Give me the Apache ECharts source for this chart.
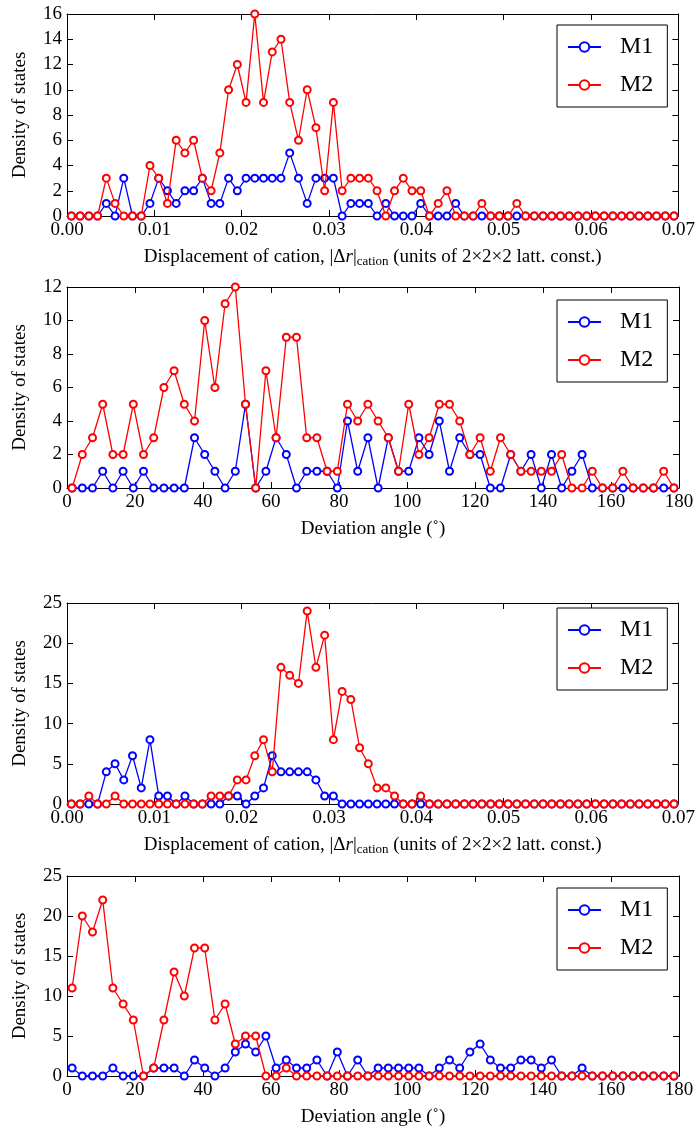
<!DOCTYPE html>
<html>
<head>
<meta charset="utf-8">
<script src="https://cdn.jsdelivr.net/npm/echarts@6/dist/echarts.min.js"></script>
<style>
  html, body { margin: 0; padding: 0; background: #fff; }
  #chart { width: 698px; height: 1134px; }
</style>
</head>
<body>
<div id="chart"></div>
<script>
// bin widths of the two histograms
const dispStep = 0.001   // displacement bins, 70 of them
const angleStep = 3      // angle bins, 60 of them

// panel 1: displacement, first set
const disp1M1 = [0, 0, 0, 0, 1, 0, 3, 0, 0, 1, 3, 2, 1, 2, 2, 3, 1, 1, 3, 2, 3, 3, 3, 3, 3, 5, 3, 1, 3, 3,
  3, 0, 1, 1, 1, 0, 1, 0, 0, 0, 1, 0, 0, 0, 1, 0, 0, 0, 0, 0, 0, 0, 0, 0, 0, 0, 0, 0, 0, 0,
  0, 0, 0, 0, 0, 0, 0, 0, 0, 0]
const disp1M2 = [0, 0, 0, 0, 3, 1, 0, 0, 0, 4, 3, 1, 6, 5, 6, 3, 2, 5, 10, 12, 9, 16, 9, 13, 14, 9, 6, 10, 7, 2,
  9, 2, 3, 3, 3, 2, 0, 2, 3, 2, 2, 0, 1, 2, 0, 0, 0, 1, 0, 0, 0, 1, 0, 0, 0, 0, 0, 0, 0, 0,
  0, 0, 0, 0, 0, 0, 0, 0, 0, 0]

// panel 2: angle, first set
const angle1M1 = [0, 0, 0, 1, 0, 1, 0, 1, 0, 0, 0, 0, 3, 2, 1, 0, 1, 5, 0, 1,
  3, 2, 0, 1, 1, 1, 0, 4, 1, 3, 0, 3, 1, 1, 3, 2, 4, 1, 3, 2,
  2, 0, 0, 2, 1, 2, 0, 2, 0, 1, 2, 0, 0, 0, 0, 0, 0, 0, 0, 0]
const angle1M2 = [0, 2, 3, 5, 2, 2, 5, 2, 3, 6, 7, 5, 4, 10, 6, 11, 12, 5, 0, 7,
  3, 9, 9, 3, 3, 1, 1, 5, 4, 5, 4, 3, 1, 5, 2, 3, 5, 5, 4, 2,
  3, 1, 3, 2, 1, 1, 1, 1, 2, 0, 0, 1, 0, 0, 1, 0, 0, 0, 1, 0]

// panel 3: displacement, second set
const disp2M1 = [0, 0, 0, 0, 4, 5, 3, 6, 2, 8, 1, 1, 0, 1, 0, 0, 0, 0, 1, 1, 0, 1, 2, 6, 4, 4, 4, 4, 3, 1,
  1, 0, 0, 0, 0, 0, 0, 0, 0, 0, 0, 0, 0, 0, 0, 0, 0, 0, 0, 0, 0, 0, 0, 0, 0, 0, 0, 0, 0, 0,
  0, 0, 0, 0, 0, 0, 0, 0, 0, 0]
const disp2M2 = [0, 0, 1, 0, 0, 1, 0, 0, 0, 0, 0, 0, 0, 0, 0, 0, 1, 1, 1, 3, 3, 6, 8, 4, 17, 16, 15, 24, 17, 21,
  8, 14, 13, 7, 5, 2, 2, 1, 0, 0, 1, 0, 0, 0, 0, 0, 0, 0, 0, 0, 0, 0, 0, 0, 0, 0, 0, 0, 0, 0,
  0, 0, 0, 0, 0, 0, 0, 0, 0, 0]

// panel 4: angle, second set
const angle2M1 = [1, 0, 0, 0, 1, 0, 0, 0, 1, 1, 1, 0, 2, 1, 0, 1, 3, 4, 3, 5,
  1, 2, 1, 1, 2, 0, 3, 0, 2, 0, 1, 1, 1, 1, 1, 0, 1, 2, 1, 3,
  4, 2, 1, 1, 2, 2, 1, 2, 0, 0, 1, 0, 0, 0, 0, 0, 0, 0, 0, 0]
const angle2M2 = [11, 20, 18, 22, 11, 9, 7, 0, 1, 7, 13, 10, 16, 16, 7, 9, 4, 5, 5, 0,
  0, 1, 0, 0, 0, 0, 0, 0, 0, 0, 0, 0, 0, 0, 0, 0, 0, 0, 0, 0,
  0, 0, 0, 0, 0, 0, 0, 0, 0, 0, 0, 0, 0, 0, 0, 0, 0, 0, 0, 0]

const seriesNames = ['M1', 'M2']
const dispTicks = { min: 0, max: 0.07, interval: 0.01 }
const angleTicks = { min: 0, max: 180, interval: 20 }
const yMax = [16, 12, 25, 25]
const yStep = [2, 2, 5, 5]

const serif = 'Liberation Serif'
const dispName = '{t|Displacement of cation, |Δ}{i|r}{t||}{s|cation}{t| (units of 2×2×2 latt. const.)}'
const angleName = '{t|Deviation angle (˚)}'

const panels = [
  { top: 14, height: 202, ticks: dispTicks, step: dispStep, dec: 2, name: dispName, data: [disp1M1, disp1M2], legendTop: 25 },
  { top: 287, height: 201, ticks: angleTicks, step: angleStep, dec: 0, name: angleName, data: [angle1M1, angle1M2], legendTop: 300 },
  { top: 603, height: 201, ticks: dispTicks, step: dispStep, dec: 2, name: dispName, data: [disp2M1, disp2M2], legendTop: 608 },
  { top: 876, height: 200, ticks: angleTicks, step: angleStep, dec: 0, name: angleName, data: [angle2M1, angle2M2], legendTop: 888 }
]

// bin centres paired with counts
function toPairs(arr, step) {
  return arr.map((v, i) => [(i + 0.5) * step, v])
}

const frame = { show: true, onZero: false, lineStyle: { color: '#000', width: 1 } }
const tick = { show: true, inside: true, length: 6, lineStyle: { color: '#000', width: 1 } }
const colors = ['#0000ff', '#ff0000']

let grid = []
let xAxis = []
let yAxis = []
let series = []
let legend = []

panels.forEach((p, i) => {
  grid.push({ left: 67, top: p.top, width: 612, height: p.height })
  xAxis.push({
    type: 'value', gridIndex: i, position: 'bottom',
    min: p.ticks.min, max: p.ticks.max, interval: p.ticks.interval,
    axisLine: frame, axisTick: tick, splitLine: { show: false },
    axisLabel: { color: '#000', fontFamily: serif, fontSize: 19, margin: 5, formatter: v => v.toFixed(p.dec) },
    name: p.name, nameLocation: 'middle', nameGap: 30,
    nameTextStyle: {
      rich: {
        t: { fontFamily: serif, fontSize: 19, color: '#000', lineHeight: 22 },
        i: { fontFamily: serif, fontSize: 19, fontStyle: 'italic', color: '#000', lineHeight: 22 },
        s: { fontFamily: serif, fontSize: 13, color: '#000', lineHeight: 12, verticalAlign: 'bottom' }
      }
    }
  })
  xAxis.push({
    type: 'value', gridIndex: i, position: 'top',
    min: p.ticks.min, max: p.ticks.max, interval: p.ticks.interval,
    axisLine: frame, axisTick: tick, axisLabel: { show: false }, splitLine: { show: false }
  })
  yAxis.push({
    type: 'value', gridIndex: i, position: 'left',
    min: 0, max: yMax[i], interval: yStep[i],
    axisLine: frame, axisTick: tick, splitLine: { show: false },
    axisLabel: { color: '#000', fontFamily: serif, fontSize: 19, margin: 5 },
    name: 'Density of states', nameLocation: 'middle', nameGap: 37, nameRotate: 90,
    nameTextStyle: { fontFamily: serif, fontSize: 19, color: '#000' }
  })
  yAxis.push({
    type: 'value', gridIndex: i, position: 'right',
    min: 0, max: yMax[i], interval: yStep[i],
    axisLine: frame, axisTick: tick, axisLabel: { show: false }, splitLine: { show: false }
  })
  p.data.forEach((arr, j) => {
    series.push({
      name: seriesNames[j], type: 'line',
      xAxisIndex: 2 * i, yAxisIndex: 2 * i,
      data: toPairs(arr, p.step),
      color: colors[j],
      symbol: 'emptyCircle', symbolSize: 7,
      lineStyle: { width: 1.3, color: colors[j] },
      itemStyle: { color: colors[j], borderColor: colors[j], borderWidth: 1.8 },
      z: 2 + j
    })
  })
  legend.push({
    data: seriesNames, orient: 'vertical',
    left: 557, top: p.legendTop,
    width: 109,
    padding: [10, 14, 10, 10], itemGap: 14,
    itemWidth: 33, itemHeight: 12,
    borderColor: '#000', borderWidth: 1, borderRadius: 0,
    backgroundColor: '#fff',
    selectedMode: false,
    textStyle: { fontFamily: serif, fontSize: 24, color: '#000', padding: [0, 0, 0, 14], lineHeight: 24 }
  })
})

const chart = echarts.init(document.getElementById('chart'), null, { renderer: 'canvas' })
chart.setOption({
  animation: false,
  backgroundColor: '#fff',
  grid: grid,
  xAxis: xAxis,
  yAxis: yAxis,
  legend: legend,
  series: series
})
</script>
</body>
</html>
